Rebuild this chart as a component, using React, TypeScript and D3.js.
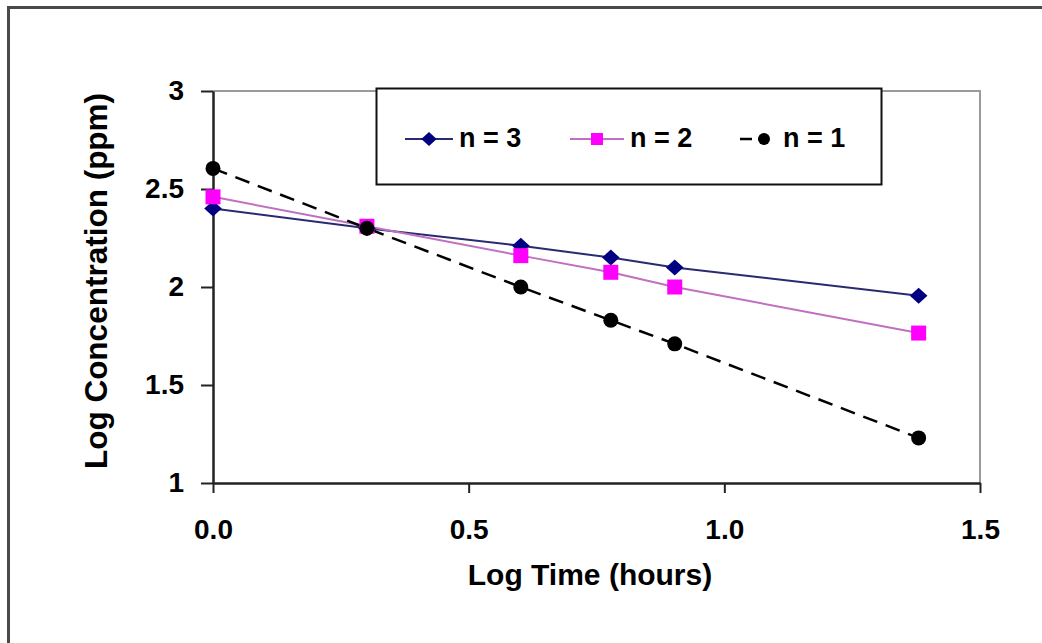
import React, { useEffect, useRef } from 'react';
import * as d3 from 'd3';

// log time (hours): log 1, 2, 4, 6, 8, 24
const logTime = [0, 0.301, 0.602, 0.778, 0.903, 1.38];
const order3 = [2.4, 2.3, 2.21, 2.15, 2.1, 1.955];
const order2 = [2.46, 2.31, 2.16, 2.075, 2.0, 1.765];
const order1 = [2.605, 2.3, 2.0, 1.83, 1.71, 1.23];

const xTicks = [0, 0.5, 1.0, 1.5];
const yTicks = [1, 1.5, 2, 2.5, 3];

const seriesNames = ['n = 3', 'n = 2', 'n = 1'];

export default function App() {
  const svgRef = useRef<SVGSVGElement>(null);

  useEffect(() => {
    const width = 1042;
    const height = 643;
    const left = 213, right = 980, top = 91, bottom = 483;
    const font = '"Liberation Sans", Arial, sans-serif';

    const svg = d3.select(svgRef.current);
    svg.selectAll('*').remove();
    svg.attr('width', width).attr('height', height);

    svg.append('rect')
      .attr('x', 0).attr('y', 0).attr('width', width).attr('height', height)
      .attr('fill', '#fff');

    // outer chart frame
    svg.append('rect')
      .attr('x', 8.5).attr('y', 7.5).attr('width', 1100).attr('height', 700)
      .attr('fill', 'none').attr('stroke', '#4a4a4a').attr('stroke-width', 3);

    const x = d3.scaleLinear().domain([0, 1.5]).range([left, right]);
    const y = d3.scaleLinear().domain([1, 3]).range([bottom, top]);

    // plot area border (top + right)
    svg.append('path')
      .attr('d', `M${left},${top}H${right}V${bottom}`)
      .attr('fill', 'none').attr('stroke', '#9a9a9a').attr('stroke-width', 2);

    // axes
    const xAxis = svg.append('g')
      .attr('transform', `translate(0,${bottom})`)
      .call(d3.axisBottom(x).tickValues(xTicks).tickFormat(d3.format('.1f')).tickSize(10).tickPadding(26).tickSizeOuter(0));
    const yAxis = svg.append('g')
      .attr('transform', `translate(${left},0)`)
      .call(d3.axisLeft(y).tickValues(yTicks).tickFormat(d => String(d)).tickSize(12).tickPadding(17).tickSizeOuter(0));

    [xAxis, yAxis].forEach(g => {
      g.select('.domain').attr('stroke', '#222').attr('stroke-width', 2.5);
      g.selectAll('.tick line').attr('stroke', '#222').attr('stroke-width', 2);
      g.selectAll('.tick text')
        .attr('fill', '#000')
        .style('font-family', font)
        .style('font-size', '28px')
        .style('font-weight', 'bold');
    });

    // axis titles
    svg.append('text')
      .attr('x', 590).attr('y', 585)
      .attr('text-anchor', 'middle')
      .style('font-family', font).style('font-size', '30px').style('font-weight', 'bold')
      .text('Log Time (hours)');

    svg.append('text')
      .attr('transform', 'translate(107,281) rotate(-90)')
      .attr('text-anchor', 'middle')
      .style('font-family', font).style('font-size', '31.5px').style('font-weight', 'bold')
      .text('Log Concentration (ppm)');

    const styles = [
      { values: order3, color: '#000080', line: '#2a2a70', width: 2, dash: null as string | null, marker: 'diamond' },
      { values: order2, color: '#ff00ff', line: '#c070c0', width: 2, dash: null, marker: 'square' },
      { values: order1, color: '#000000', line: '#000000', width: 2.5, dash: '15,9', marker: 'circle' },
    ];

    const line = d3.line<number>()
      .x((_, i) => x(logTime[i]))
      .y(d => y(d));

    const drawMarker = (g: d3.Selection<any, any, any, any>, kind: string, cx: number, cy: number, color: string, s: number) => {
      if (kind === 'diamond') {
        g.append('path')
          .attr('d', `M${cx},${cy - s * 0.5}L${cx + s * 0.55},${cy}L${cx},${cy + s * 0.5}L${cx - s * 0.55},${cy}Z`)
          .attr('fill', color);
      } else if (kind === 'square') {
        g.append('rect')
          .attr('x', cx - s / 2).attr('y', cy - s / 2).attr('width', s).attr('height', s)
          .attr('fill', color);
      } else {
        g.append('circle').attr('cx', cx).attr('cy', cy).attr('r', s / 2).attr('fill', color);
      }
    };

    const plot = svg.append('g');
    styles.forEach(s => {
      plot.append('path')
        .datum(s.values)
        .attr('fill', 'none')
        .attr('stroke', s.line)
        .attr('stroke-width', s.width)
        .attr('stroke-dasharray', s.dash)
        .attr('d', line);
    });
    styles.forEach(s => {
      s.values.forEach((v, i) => drawMarker(plot, s.marker, x(logTime[i]), y(v), s.color, s.marker === 'diamond' ? 16 : 15));
    });

    // legend
    const legend = svg.append('g');
    legend.append('rect')
      .attr('x', 376.5).attr('y', 88.5).attr('width', 505).attr('height', 96)
      .attr('fill', '#fff').attr('stroke', '#111').attr('stroke-width', 2);

    const legendX = [405, 570, 740];
    const legendLen = [48, 54, 36];
    styles.forEach((s, i) => {
      const lx = legendX[i];
      const ly = 139;
      legend.append('line')
        .attr('x1', lx).attr('x2', lx + legendLen[i])
        .attr('y1', ly).attr('y2', ly)
        .attr('stroke', s.line)
        .attr('stroke-width', s.width)
        .attr('stroke-dasharray', s.dash ? '12,6,2,20' : null);
      drawMarker(legend, s.marker, lx + (i === 2 ? 24 : legendLen[i] / 2), ly, s.color, i === 0 ? 14 : 12);
      legend.append('text')
        .attr('x', lx + legendLen[i] + (i === 2 ? 7 : 6)).attr('y', 147)
        .style('font-family', font).style('font-size', '27px').style('font-weight', 'bold')
        .text(seriesNames[i]);
    });
  }, []);

  return (
    <div style={{ position: 'absolute', left: 0, top: 0 }}>
      <svg ref={svgRef}></svg>
    </div>
  );
}
